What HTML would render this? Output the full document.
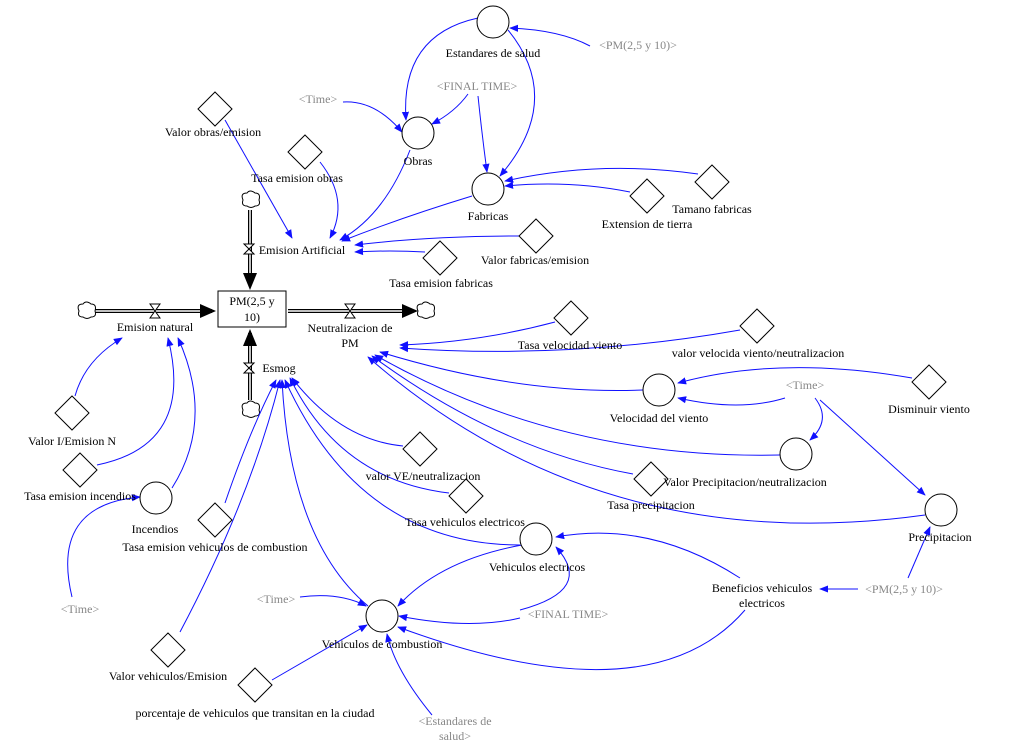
<!DOCTYPE html>
<html><head><meta charset="utf-8"><style>
html,body{margin:0;padding:0;background:#fff;}
svg{display:block;}
text{font-family:"Liberation Serif",serif;font-size:12px;fill:#000;text-anchor:middle;}
.g{fill:#888;}
.l{fill:none;stroke:#1010ff;stroke-width:1;}
.c{fill:#fff;stroke:#000;stroke-width:1;}
</style></head><body>
<svg width="1034" height="747" viewBox="0 0 1034 747" xmlns="http://www.w3.org/2000/svg">
<defs>
<marker id="a" viewBox="0 0 10 10" refX="9" refY="5" markerWidth="9" markerHeight="9" orient="auto" markerUnits="userSpaceOnUse"><path d="M0,1 L10,5 L0,9z" fill="#1010ff"/></marker>
<marker id="b" viewBox="0 0 10 10" refX="9" refY="5" markerWidth="14" markerHeight="14" orient="auto" markerUnits="userSpaceOnUse"><path d="M0,1 L10,5 L0,9z" fill="#000"/></marker>
</defs>
<!-- flows -->
<g stroke="#000" stroke-width="4" fill="none">
<path d="M95,311 L212,311"/><path d="M288,311 L410,311"/><path d="M250,210 L250,285"/><path d="M250,400 L250,333"/>
</g>
<g stroke="#fff" stroke-width="1.5" fill="none">
<path d="M95,311 L205,311"/><path d="M288,311 L404,311"/><path d="M250,210 L250,280"/><path d="M250,400 L250,338"/>
</g>
<path d="M200,304 L216,311 L200,318z" fill="#000"/>
<path d="M402,304 L418,311 L402,318z" fill="#000"/>
<path d="M243,273 L250,290 L257,273z" fill="#000"/>
<path d="M243,346 L250,329 L257,346z" fill="#000"/>
<!-- valves -->
<g stroke="#000" fill="#fff">
<path d="M150,304 L160,304 L150,318 L160,318z"/>
<path d="M345,304 L355,304 L345,318 L355,318z"/>
<path d="M244,244 L244,254 L254,244 L254,254z" transform="rotate(90 249 249)"/>
<path d="M244,363 L244,373 L254,363 L254,373z" transform="rotate(90 249 368)"/>
</g>
<!-- clouds -->
<g stroke="#000" fill="#fff">
<path d="M79,311 q-3,-7 4,-7 q3,-4 8,0 q6,0 4,7 q2,6 -4,6 q-4,3 -8,0 q-6,0 -4,-6z"/>
<path d="M418,311 q-3,-7 4,-7 q3,-4 8,0 q6,0 4,7 q2,6 -4,6 q-4,3 -8,0 q-6,0 -4,-6z"/>
<path d="M243,200 q-3,-7 4,-7 q3,-4 8,0 q6,0 4,7 q2,6 -4,6 q-4,3 -8,0 q-6,0 -4,-6z"/>
<path d="M243,410 q-3,-7 4,-7 q3,-4 8,0 q6,0 4,7 q2,6 -4,6 q-4,3 -8,0 q-6,0 -4,-6z"/>
</g>
<rect x="218" y="291" width="68" height="36" fill="#fff" stroke="#000"/>
<text x="252" y="305">PM(2,5 y</text><text x="252" y="321">10)</text>
<!-- links -->
<g class="l" marker-end="url(#a)">
<path d="M590,46 Q560,30 510,28"/>
<path d="M478,18 Q400,35 406,120"/>
<path d="M508,30 Q565,100 500,176"/>
<path d="M468,94 Q455,112 432,124"/>
<path d="M478,96 Q482,135 487,172"/>
<path d="M343,102 Q375,100 402,132"/>
<path d="M410,150 Q385,215 340,240"/>
<path d="M472,196 Q400,218 342,241"/>
<path d="M225,120 Q265,190 292,238"/>
<path d="M320,162 Q350,200 330,238"/>
<path d="M520,236 Q430,236 355,245"/>
<path d="M425,252 Q390,250 355,252"/>
<path d="M698,174 Q600,160 505,181"/>
<path d="M630,192 Q570,180 505,186"/>
<path d="M555,322 Q480,342 400,345"/>
<path d="M740,330 Q570,360 400,348"/>
<path d="M643,390 Q520,395 380,352"/>
<path d="M912,378 Q780,355 678,383"/>
<path d="M785,398 Q740,412 678,398"/>
<path d="M815,398 Q832,420 810,440"/>
<path d="M820,400 L925,495"/>
<path d="M780,455 Q560,460 375,355"/>
<path d="M633,474 Q500,450 372,356"/>
<path d="M925,515 Q600,560 368,357"/>
<path d="M858,589 L820,589"/>
<path d="M908,578 Q920,550 930,527"/>
<path d="M740,578 Q650,520 556,537"/>
<path d="M745,610 Q650,720 398,627"/>
<path d="M520,610 Q595,590 556,547"/>
<path d="M520,618 Q470,630 399,616"/>
<path d="M522,545 Q440,560 398,606"/>
<path d="M300,597 Q340,592 366,606"/>
<path d="M272,680 Q320,652 367,625"/>
<path d="M432,715 Q395,670 387,634"/>
<path d="M520,545 Q360,545 285,380"/>
<path d="M449,493 Q340,480 290,378"/>
<path d="M403,446 Q340,440 292,378"/>
<path d="M368,606 Q290,540 282,380"/>
<path d="M225,503 Q250,430 276,380"/>
<path d="M180,632 Q250,500 280,380"/>
<path d="M75,396 Q85,360 122,338"/>
<path d="M97,465 Q195,445 168,338"/>
<path d="M172,488 Q215,420 178,338"/>
<path d="M72,597 Q50,505 140,497"/>
</g>
<!-- circles -->
<g class="c">
<circle cx="493" cy="22" r="16"/><circle cx="418" cy="133" r="16"/><circle cx="488" cy="189" r="16"/>
<circle cx="659" cy="390" r="16"/><circle cx="796" cy="454" r="16"/><circle cx="941" cy="510" r="16"/>
<circle cx="156" cy="498" r="16"/><circle cx="536" cy="539" r="16"/><circle cx="382" cy="616" r="16"/>
</g>
<!-- diamonds -->
<g class="c">
<path d="M215,92 l17,17 l-17,17 l-17,-17z"/>
<path d="M305,135 l17,17 l-17,17 l-17,-17z"/>
<path d="M440,241 l17,17 l-17,17 l-17,-17z"/>
<path d="M536,219 l17,17 l-17,17 l-17,-17z"/>
<path d="M647,179 l17,17 l-17,17 l-17,-17z"/>
<path d="M712,165 l17,17 l-17,17 l-17,-17z"/>
<path d="M571,301 l17,17 l-17,17 l-17,-17z"/>
<path d="M757,309 l17,17 l-17,17 l-17,-17z"/>
<path d="M929,365 l17,17 l-17,17 l-17,-17z"/>
<path d="M651,462 l17,17 l-17,17 l-17,-17z"/>
<path d="M420,432 l17,17 l-17,17 l-17,-17z"/>
<path d="M466,479 l17,17 l-17,17 l-17,-17z"/>
<path d="M72,396 l17,17 l-17,17 l-17,-17z"/>
<path d="M80,453 l17,17 l-17,17 l-17,-17z"/>
<path d="M215,503 l17,17 l-17,17 l-17,-17z"/>
<path d="M168,633 l17,17 l-17,17 l-17,-17z"/>
<path d="M255,668 l17,17 l-17,17 l-17,-17z"/>
</g>
<!-- labels -->
<text x="493" y="57">Estandares de salud</text>
<text x="418" y="165">Obras</text>
<text x="488" y="220">Fabricas</text>
<text x="659" y="422">Velocidad del viento</text>
<text x="745" y="486">Valor Precipitacion/neutralizacion</text>
<text x="940" y="541">Precipitacion</text>
<text x="155" y="533">Incendios</text>
<text x="537" y="571">Vehiculos electricos</text>
<text x="382" y="648">Vehiculos de combustion</text>
<text x="213" y="136">Valor obras/emision</text>
<text x="297" y="182">Tasa emision obras</text>
<text x="441" y="287">Tasa emision fabricas</text>
<text x="535" y="264">Valor fabricas/emision</text>
<text x="647" y="228">Extension de tierra</text>
<text x="712" y="213">Tamano fabricas</text>
<text x="570" y="349">Tasa velocidad viento</text>
<text x="758" y="357">valor velocida viento/neutralizacion</text>
<text x="929" y="413">Disminuir viento</text>
<text x="651" y="509">Tasa precipitacion</text>
<text x="423" y="480">valor VE/neutralizacion</text>
<text x="465" y="526">Tasa vehiculos electricos</text>
<text x="72" y="445">Valor I/Emision N</text>
<text x="80" y="500">Tasa emision incendios</text>
<text x="215" y="551">Tasa emision vehiculos de combustion</text>
<text x="168" y="680">Valor vehiculos/Emision</text>
<text x="255" y="717">porcentaje de vehiculos que transitan en la ciudad</text>
<text x="762" y="592">Beneficios vehiculos</text>
<text x="762" y="607">electricos</text>
<text x="155" y="331">Emision natural</text>
<text x="350" y="332">Neutralizacion de</text>
<text x="350" y="347">PM</text>
<text x="302" y="254">Emision Artificial</text>
<text x="279" y="372">Esmog</text>
<text class="g" x="638" y="49">&lt;PM(2,5 y 10)&gt;</text>
<text class="g" x="477" y="90">&lt;FINAL TIME&gt;</text>
<text class="g" x="318" y="103">&lt;Time&gt;</text>
<text class="g" x="805" y="389">&lt;Time&gt;</text>
<text class="g" x="904" y="593">&lt;PM(2,5 y 10)&gt;</text>
<text class="g" x="568" y="618">&lt;FINAL TIME&gt;</text>
<text class="g" x="276" y="603">&lt;Time&gt;</text>
<text class="g" x="80" y="613">&lt;Time&gt;</text>
<text class="g" x="455" y="725">&lt;Estandares de</text>
<text class="g" x="455" y="740">salud&gt;</text>
</svg>
</body></html>
